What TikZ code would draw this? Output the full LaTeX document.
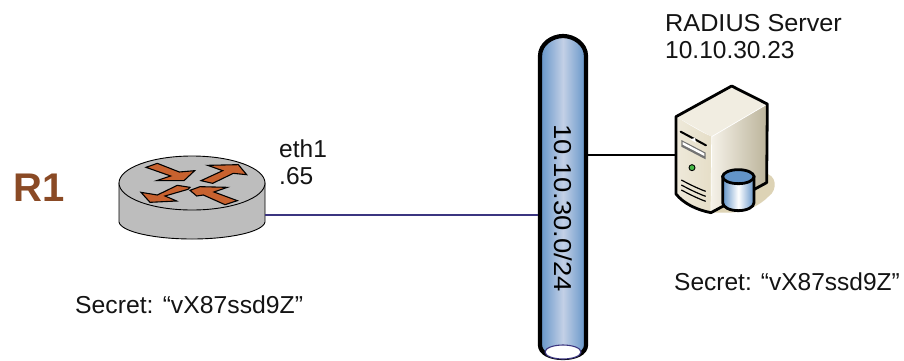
\documentclass[tikz,border=0pt]{standalone}
\usepackage{fontspec}
\setmainfont{Liberation Sans}
\usetikzlibrary{shapes.geometric}
\begin{document}
\begin{tikzpicture}[x=1pt,y=-1pt,
  lbl/.style={anchor=base west,inner sep=0pt,font=\fontsize{24.5}{28}\selectfont,text=black!92},
  arrowshape/.style={fill=arrowfill,draw=black,line width=1.1pt,line join=miter},
  zoomA/.style={shift={(100,130)},x=0.3333pt,y=-0.3333pt},
  zoomB/.style={shift={(640,80)},x=0.3333pt,y=-0.3333pt}]
\definecolor{arrowfill}{HTML}{C8622F}
\definecolor{routergrey}{HTML}{BDBDBD}
\definecolor{pipeedge}{HTML}{6394C8}
\definecolor{pipemid}{HTML}{C3D0E6}
\definecolor{rline}{HTML}{3B3580}
\definecolor{rtext}{HTML}{8A4A25}
\definecolor{shadowtan}{HTML}{DDD3B5}
\useasboundingbox (0,0) rectangle (904,360);
\fill[white] (0,0) rectangle (904,360);

% pipe
\path[left color=pipeedge,right color=pipeedge,middle color=pipemid,draw=black,line width=4.2pt]
  (540,56) .. controls (540,44) and (552,36) .. (563,36) .. controls (574,36) and (586,44) .. (586,56)
  -- (586,345) .. controls (586,353) and (576,358) .. (563,358) .. controls (550,358) and (540,353) .. (540,345) -- cycle;
\node[draw=rline,fill=white,line width=1.1pt,ellipse,minimum width=36pt,minimum height=14pt,inner sep=0pt] (pipeend) at (563,352) {};
\node[inner sep=0pt,minimum width=50pt,minimum height=326pt] (pipe) at (563,197) {};
\node[rotate=-90,xscale=1.12,inner sep=0pt,font=\fontsize{24.5}{28}\selectfont] (subnet) at (563,208) {10.10.30.0/24};

% router
\coordinate (r1port) at (265,215);
\path[fill=routergrey,draw=black,line width=0.9pt]
  (119,183) -- (119,222) .. controls (121,232) and (155,239) .. (192,239)
  .. controls (229,239) and (263,232) .. (265,222) -- (265,183) -- cycle;
\node[ellipse,draw=black,fill=routergrey,line width=0.9pt,minimum width=146pt,minimum height=54pt,inner sep=0pt] (router) at (192,183) {};
\begin{scope}[zoomA]
\draw[arrowshape] (138,112) -- (172,100) -- (238,126) -- (284,122) -- (252,152) -- (170,152) -- (212,138) -- cycle;
\draw[arrowshape] (303,152) -- (368,122) -- (323,106) -- (415,104) -- (440,134) -- (400,130) -- (338,160) -- cycle;
\draw[arrowshape] (270,172) -- (232,166) -- (172,195) -- (123,187) -- (150,217) -- (230,213) -- (195,198) -- (264,178) -- cycle;
\draw[arrowshape] (270,181) -- (300,170) -- (382,172) -- (342,186) -- (412,212) -- (375,224) -- (310,195) -- (290,198) -- cycle;
\end{scope}

% server
\coordinate (srvport) at (676,155);
\begin{scope}[zoomB]
\fill[shadowtan] (370,280) .. controls (410,280) and (415,330) .. (385,350) .. controls (360,375) and (320,400) .. (250,398) -- (215,398) -- (300,300) -- cycle;
\path[left color=white!70!shadowtan,right color=shadowtan!85!black,draw=none]
  (215,170) -- (382,72) -- (380,308) -- (213,398) -- cycle;
\path[fill=shadowtan!40!white]
  (108,110) -- (275,18) -- (382,72) -- (215,170) -- cycle;
\path[left color=shadowtan!50!white,right color=shadowtan!75!white]
  (108,110) .. controls (140,130) and (180,155) .. (215,170) -- (213,398)
  .. controls (170,390) and (130,370) .. (108,342) -- cycle;
\draw[white,line width=0.7pt] (215,170) -- (382,72);
\draw[white,line width=0.7pt] (215,170) -- (213,398);
\draw[black,line width=2.8pt,line join=round]
  (108,110) -- (275,18) -- (382,72) -- (380,308) -- (213,398)
  .. controls (170,390) and (130,370) .. (108,342) -- cycle;
% front details
\draw[black,line width=2pt,line cap=round] (122,155) -- (198,196);
\fill[black!55] (124,180) -- (197,218) -- (197,238) -- (124,200) -- cycle;
\fill[white] (128,186) -- (193,220) -- (193,228) -- (128,194) -- cycle;
\fill[white] (150,178) -- (165,174) -- (168,188) -- cycle;
\node[circle,draw=black,fill=green!45!gray,line width=0.9pt,minimum size=6pt,inner sep=0pt] (led) at (156,263) {};
\foreach \yy in {300,315,330}{
  \draw[black,line width=1.2pt] (124,\yy) .. controls (150,\yy+14) and (175,\yy+26) .. (197,\yy+34);
}
% cylinder
\path[left color=pipeedge,right color=pipeedge,middle color=white,draw=black,line width=2.8pt]
  (248,290) -- (248,368) .. controls (248,382) and (270,392) .. (295,392) .. controls (320,392) and (342,382) .. (342,368) -- (342,290) -- cycle;
\node[ellipse,draw=black,fill=pipeedge,line width=2.8pt,minimum width=31.3pt,minimum height=14pt,inner sep=0pt] (cyltop) at (295,290) {};
\end{scope}

% connectors
\draw[rline,line width=1.2pt] (r1port) -- (r1port -| pipe.west);
\draw[black,line width=1.2pt] (pipe.east |- srvport) -- (srvport);

% labels
\node[anchor=base west,inner sep=0pt,font=\fontsize{40}{44}\bfseries\selectfont,text=rtext] (r1) at (13,201) {R1};
\node[lbl] (eth) at (279,157) {eth1};
\node[lbl] (ip) at (279,184) {.65};
\node[lbl,xscale=1.01] (sec1) at (75,313) {Secret: “vX87ssd9Z”};
\node[lbl,xscale=1.03] (rad) at (665,31) {RADIUS Server};
\node[lbl] (radip) at (665,58) {10.10.30.23};
\node[lbl] (sec2) at (674,290) {Secret: “vX87ssd9Z”};
\end{tikzpicture}
\end{document}
